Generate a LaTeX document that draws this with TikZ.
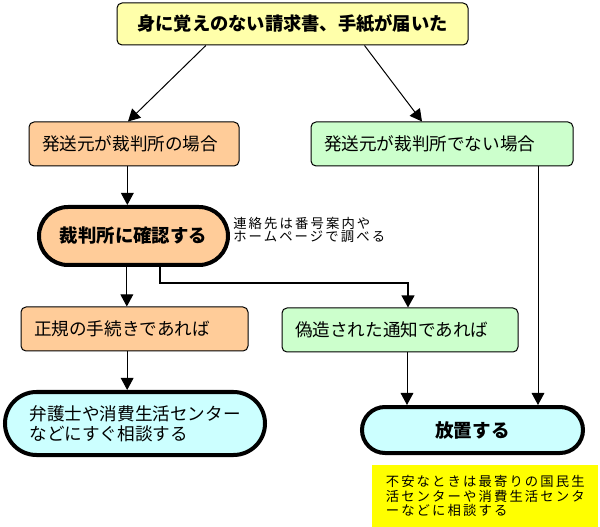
\documentclass[tikz,border=0pt]{standalone}
\usepackage{fontspec}
\setmainfont{Noto Sans CJK JP}
\newfontfamily\notefont{Noto Sans CJK JP}[LetterSpace=16]
\usetikzlibrary{arrows.meta,shapes.misc}
\definecolor{box_yellow}{RGB}{255, 255, 170}
\definecolor{box_orange}{RGB}{255, 204, 153}
\definecolor{box_green}{RGB}{204, 255, 204}
\definecolor{box_cyan}{RGB}{204, 255, 255}
\definecolor{note_yellow}{RGB}{255, 255, 0}
\begin{document}
\begin{tikzpicture}[x=0.75pt, y=-0.75pt,
  casebox/.style={draw, line width=0.75pt, rounded corners=3.75pt, minimum height=33pt,
    inner xsep=9.75pt, align=left, font=\fontsize{13.2}{15}\selectfont},
  endbox/.style={draw, line width=3pt, rounded rectangle, inner sep=0pt},
  flow/.style={-{Triangle[length=9pt,width=9.5pt]}, line width=0.75pt}]
\useasboundingbox (0, 0) rectangle (600, 527);

\node[casebox, fill=box_yellow, align=center, minimum width=263.25pt, minimum height=31.5pt,
  font=\bfseries\fontsize{13.7}{15}\selectfont] (letter) at (292.5, 24) {身に覚えのない請求書、手紙が届いた};
\node[casebox, fill=box_orange, text width=138pt] (court) at (134, 144) {発送元が裁判所の場合};
\node[casebox, fill=box_green, text width=177pt] (notcourt) at (442, 144) {発送元が裁判所でない場合};
\node[endbox, fill=box_orange, minimum width=141.75pt, minimum height=43.5pt,
  font=\bfseries\fontsize{13.8}{15}\selectfont] (confirm) at (133.5, 236) {裁判所に確認する};
\node[anchor=north west, inner sep=0pt, align=left, font=\notefont\fontsize{10}{9.6}\selectfont]
  (howto) at (233, 217) {連絡先は番号案内や\\ホームページで調べる};
\node[casebox, fill=box_orange, text width=150.75pt] (regular) at (134.5, 329) {正規の手続きであれば};
\node[casebox, fill=box_green, text width=157.5pt] (forged) at (400, 330) {偽造された通知であれば};
\node[endbox, fill=box_cyan, minimum width=195pt, minimum height=47.25pt, align=left,
  font=\fontsize{13.2}{15}\selectfont] (consult) at (135, 423.5) {弁護士や消費生活センター\\などにすぐ相談する};
\node[endbox, fill=box_cyan, minimum width=165.75pt, minimum height=34.5pt,
  font=\bfseries\fontsize{13.9}{15}\selectfont] (leave) at (472.5, 430) {放置する};
\node[anchor=north west, fill=note_yellow, minimum width=169.5pt, minimum height=46.5pt,
  inner xsep=8pt, align=left, font=\notefont\fontsize{10}{10.9}\selectfont]
  (worry) at (372, 465) {不安なときは最寄りの国民生\\活センターや消費生活センタ\\ーなどに相談する};

\draw[flow] ([xshift=-65pt]letter.south) -- ([xshift=-4.5pt]court.north);
\draw[flow] ([xshift=54pt]letter.south) -- ([xshift=-15pt]notcourt.north);
\draw[flow] ([xshift=-5pt]court.south) -- ([xshift=-5pt]court.south |- confirm.north);
\draw[flow] ([xshift=-5pt]confirm.south) -- ([xshift=-5pt]confirm.south |- regular.north);
\draw[flow, line width=1.5pt] ([xshift=20pt]confirm.south) -- ++(0, 16) -| ([xshift=6pt]forged.north);
\draw[flow] ([xshift=-5.5pt]regular.south) -- ([xshift=-5.5pt]regular.south |- consult.north);
\draw[flow] ([xshift=5.25pt]forged.south) -- ([xshift=5.25pt]forged.south |- leave.north);
\draw[flow] ([xshift=72pt]notcourt.south) -- ([xshift=72pt]notcourt.south |- leave.north);

\end{tikzpicture}
\end{document}
